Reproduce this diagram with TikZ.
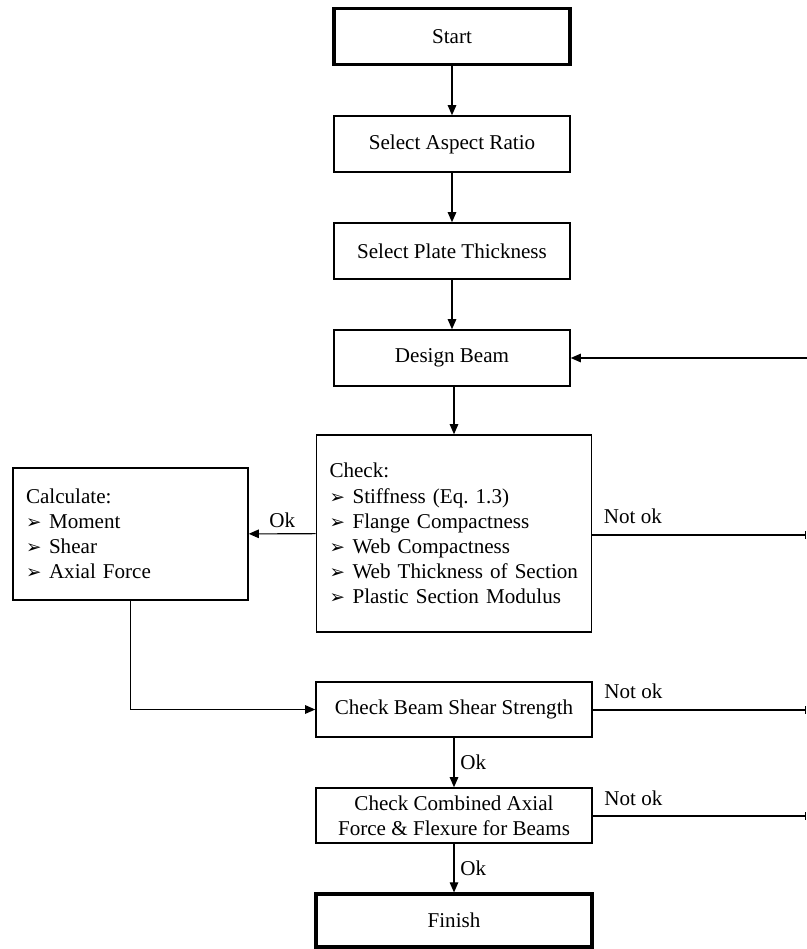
\documentclass[tikz,border=0pt]{standalone}
\usepackage{fontspec}
\setmainfont{Liberation Serif}
\newfontfamily\dingfont{DejaVu Sans}
\usetikzlibrary{arrows.meta}
\newcommand{\arw}{\makebox[0.46cm][l]{\dingfont\fontsize{10.5}{10}\selectfont ➢}}

\begin{document}
\begin{tikzpicture}[x=0.02cm,y=-0.02cm,font=\fontsize{12}{14.3}\selectfont,
  block/.style={draw,line width=0.9pt,minimum width=4.72cm,minimum height=1.12cm,align=center},
  termbox/.style={block,line width=1.8pt},
  flow/.style={line width=0.6pt,-{Triangle[length=0.2cm,width=0.17cm]}},
  back/.style={line width=0.6pt,-{Bar[width=0.16cm]}}]
  \useasboundingbox (0,0) rectangle (807,949);
  % main column
  \node[termbox] (start) at (452,36.5) {Start};
  \node[block] (aspect) at (452,144) {Select Aspect Ratio};
  \node[block] (plate) at (452,251) {Select Plate Thickness};
  \node[block] (design) at (452,358) {Design Beam};
  \node[block,minimum width=0cm,text width=4.98cm,inner xsep=0.26cm,minimum height=3.94cm,align=left] (check) at (454,533.5)
    {Check:\\ \arw Stiffness (Eq.\ 1.3)\\ \arw Flange Compactness\\ \arw Web Compactness\\ \arw Web Thickness of Section\\ \arw Plastic Section Modulus};
  \node[block,minimum width=0cm,text width=4.18cm,inner xsep=0.26cm,minimum height=2.64cm,align=left] (calc) at (130.5,534)
    {Calculate:\\ \arw Moment\\ \arw Shear\\ \arw Axial Force};
  \node[block,minimum width=5.52cm,minimum height=1.1cm] (shear) at (454,709.5) {Check Beam Shear Strength};
  \node[block,minimum width=5.52cm,minimum height=1.1cm,inner ysep=2pt] (combined) at (454,815.5) {Check Combined Axial\\Force \& Flexure for Beams};
  \node[termbox,minimum width=5.52cm,minimum height=1.06cm] (finish) at (454,920.5) {Finish};
  % free ends at the right edge
  \coordinate (backD) at (807,358);
  \coordinate (backC) at (806,535);
  \coordinate (backS) at (806,710);
  \coordinate (backF) at (806,816);
  % connectors
  \draw[flow] (start) -- (aspect);
  \draw[flow] (aspect) -- (plate);
  \draw[flow] (plate) -- (design);
  \draw[flow] (design.south -| check.north) -- (check.north);
  \draw[flow] (check) -- node[above]{Ok} (calc);
  \draw[flow] (calc.south) |- (shear.west);
  \draw[flow] (shear) -- node[right]{Ok} (combined);
  \draw[flow] (combined) -- node[right]{Ok} (finish);
  \draw[flow] (backD) -- (design.east);
  \draw[back] (check.east |- backC) -- node[pos=0,above right,xshift=3pt,yshift=3pt]{Not ok} (backC);
  \draw[back] (shear.east |- backS) -- node[pos=0,above right,xshift=3pt,yshift=3pt]{Not ok} (backS);
  \draw[back] (combined.east |- backF) -- node[pos=0,above right,xshift=3pt,yshift=2pt]{Not ok} (backF);
\end{tikzpicture}
\end{document}
